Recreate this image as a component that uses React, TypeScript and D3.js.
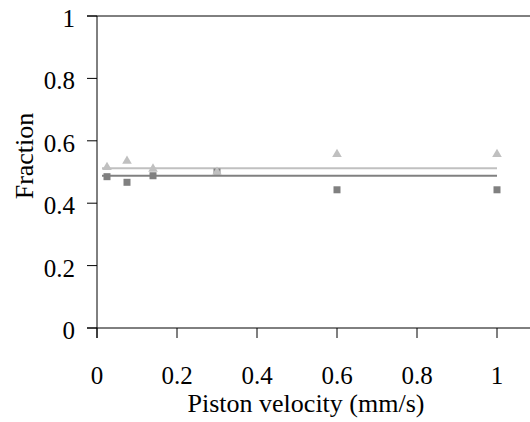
import React from "react";
import * as d3 from "d3";

const velocities = [0.025, 0.075, 0.14, 0.3, 0.6, 1.0];
const fractionLight = [0.515, 0.535, 0.51, 0.5, 0.557, 0.557];
const fractionDark = [0.485, 0.467, 0.488, 0.5, 0.443, 0.443];
const fitLineX = [0.0125, 1.0];
const fitLight = [0.512, 0.512];
const fitDark = [0.488, 0.488];
const xTicks = [0, 0.2, 0.4, 0.6, 0.8, 1];
const yTicks = [0, 0.2, 0.4, 0.6, 0.8, 1];
const xTickLabels = ["0", "0.2", "0.4", "0.6", "0.8", "1"];
const yTickLabels = ["0", "0.2", "0.4", "0.6", "0.8", "1"];
const xTitle = "Piston velocity (mm/s)";
const yTitle = "Fraction";

const W = 530;
const H = 422;
const LIGHT = "#c0c0c0";
const DARK = "#808080";
const FONT = "'Liberation Serif', 'Times New Roman', serif";

export default function App() {
  const x = d3.scaleLinear().domain([0, 1]).range([97, 497]);
  const y = d3.scaleLinear().domain([0, 1]).range([328, 16]);
  const line = d3
    .line<[number, number]>()
    .x((d) => x(d[0]))
    .y((d) => y(d[1]));
  const lightPts: [number, number][] = fitLineX.map((v, i) => [v, fitLight[i]]);
  const darkPts: [number, number][] = fitLineX.map((v, i) => [v, fitDark[i]]);
  const tri = d3.symbol().type(d3.symbolTriangle).size(40)();
  const sq = 7;

  return (
    <svg
      width={W}
      height={H}
      style={{ position: "absolute", left: 0, top: 0, background: "#fff" }}
      fontFamily={FONT}
    >
      {/* axes */}
      <line x1={87} x2={W} y1={y(1)} y2={y(1)} stroke="#000" strokeWidth={1} />
      <line x1={x(0)} x2={x(0)} y1={y(1)} y2={338} stroke="#000" strokeWidth={1} />
      <line x1={87} x2={W} y1={y(0)} y2={y(0)} stroke="#000" strokeWidth={1} />
      {yTicks.map((t, i) => (
        <g key={"y" + i}>
          <line x1={87} x2={x(0)} y1={y(t)} y2={y(t)} stroke="#000" strokeWidth={1} />
          <text x={75} y={y(t) + 11} textAnchor="end" fontSize={25} fill="#000">
            {yTickLabels[i]}
          </text>
        </g>
      ))}
      {xTicks.map((t, i) => (
        <g key={"x" + i}>
          <line x1={x(t)} x2={x(t)} y1={y(0)} y2={338} stroke="#000" strokeWidth={1} />
          <text x={x(t)} y={384} textAnchor="middle" fontSize={25} fill="#000">
            {xTickLabels[i]}
          </text>
        </g>
      ))}
      <text x={306} y={412} textAnchor="middle" fontSize={26} fill="#000">
        {xTitle}
      </text>
      <text
        transform={`translate(33,156) rotate(-90)`}
        textAnchor="middle"
        fontSize={26}
        fill="#000"
      >
        {yTitle}
      </text>
      {/* fit lines */}
      <path d={line(lightPts) || ""} stroke={LIGHT} strokeWidth={2} fill="none" />
      <path d={line(darkPts) || ""} stroke={DARK} strokeWidth={2} fill="none" />
      {/* squares */}
      {velocities.map((v, i) => (
        <rect
          key={"s" + i}
          x={x(v) - sq / 2}
          y={y(fractionDark[i]) - sq / 2}
          width={sq}
          height={sq}
          fill={DARK}
        />
      ))}
      {/* triangles */}
      {velocities.map((v, i) => (
        <path
          key={"t" + i}
          d={tri || ""}
          transform={`translate(${x(v)},${y(fractionLight[i])})`}
          fill={LIGHT}
        />
      ))}
    </svg>
  );
}
